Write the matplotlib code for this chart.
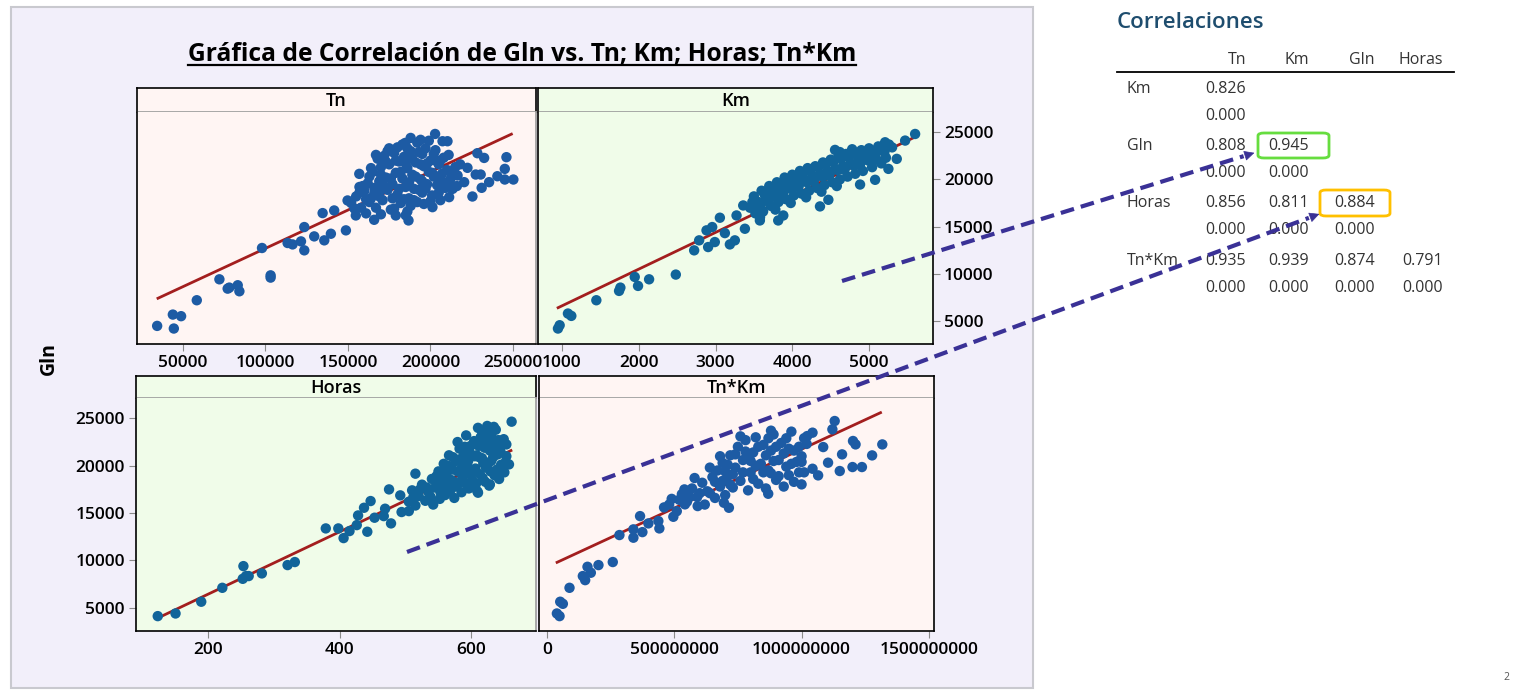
import numpy as np
import matplotlib
matplotlib.use("Agg")
import matplotlib.pyplot as plt
from matplotlib.lines import Line2D
from matplotlib.patches import Rectangle, FancyArrowPatch, FancyBboxPatch

plt.rcParams['font.family'] = ['Open Sans', 'DejaVu Sans']

W, H = 1518, 690

# ---- data -----------------------------------------------------------------
tn_x = [34500, 44600, 44000, 49000, 58500, 72200, 77200, 78200, 83300, 84300,
        98000, 103200, 103200, 113500, 116500, 121600, 123600, 123600, 129600, 135700,
        134700, 139700, 141700, 148800, 149800, 156900, 154800, 165900, 179000, 186700,
        201200, 202800, 184700, 207300, 210300, 228400, 232500, 246000, 245000, 250200,
        245000, 240500, 235500, 231000, 225400, 220400, 211300, 222400, 227400, 230400,
        216400, 213400,
        152000, 155000, 158000, 160000, 162000, 163000, 165000, 166000, 168000, 169000,
        170000, 171000, 172000, 173000, 174000, 175000, 176000, 177000, 178000, 179000,
        180000, 181000, 182000, 183000, 184000, 185000, 186000, 187000, 188000, 189000,
        190000, 191000, 192000, 193000, 194000, 195000, 196000, 197000, 198000, 199000,
        200000, 201000, 202000, 203000, 204000, 205000, 206000, 207000, 208000, 209000,
        210000, 212000, 214000, 216000, 218000, 161000, 167000, 178000, 186000, 196000,
        175000, 183000, 192000, 199000, 157000, 164000, 171000, 188000, 195000, 204000,
        154000, 157000, 159000, 161000, 163000, 164000, 166000, 167000, 169000, 170000,
        172000, 173000, 174000, 176000, 177000, 179000, 180000, 181000, 182000, 184000,
        185000, 186000, 187000, 189000, 190000, 191000, 193000, 194000, 195000, 197000,
        198000, 200000, 201000, 202000, 204000, 205000, 206000, 208000, 210000, 211000,
        213000, 215000, 188000, 194000, 185000, 170000]
tn_y = [4470, 4190, 5670, 5500, 7190, 9410, 8420, 8530, 8780, 8140,
        12730, 9830, 9590, 13260, 13110, 13430, 12480, 14950, 13960, 13540,
        16430, 14240, 16710, 14600, 17770, 20590, 16180, 15720, 16180, 15650,
        17060, 24820, 23870, 24050, 24050, 22780, 22280, 22360, 21120, 19990,
        19990, 20340, 19710, 19110, 18190, 19710, 18120, 21230, 20520, 20520,
        20420, 19000,
        17500, 18200, 17000, 18800, 19600, 17600, 20800, 18500, 22200, 19800,
        21300, 17800, 22500, 20200, 18900, 21600, 16800, 19500, 22800, 20700,
        18400, 21900, 17500, 20100, 22400, 19200, 21200, 18000, 23000, 20500,
        19000, 21800, 17600, 22900, 20000, 18600, 21400, 23300, 19500, 20800,
        22000, 18300, 20300, 23100, 19400, 21600, 17800, 20600, 22300, 19100,
        21000, 20000, 20900, 19300, 21600, 16400, 17000, 16900, 16600, 17400,
        23300, 23700, 23900, 24100, 19200, 18000, 19000, 17200, 19800, 21900,
        16900, 18600, 19300, 17900, 20300, 21200, 19100, 22600, 18200, 20500,
        19300, 21900, 23000, 20100, 18000, 22000, 23400, 19000, 20800, 17900,
        21700, 23300, 19700, 22200, 17800, 20300, 18900, 21600, 22700, 19000,
        21700, 17700, 20700, 22700, 20300, 18600, 22000, 19700, 19400, 22600,
        20400, 21300, 24400, 24200, 16200, 16300]

km_x = [948, 970, 1078, 1122, 1448, 1744, 1761, 1948, 1991, 2135,
        2483, 2722, 2787, 2883, 2904, 2957, 2991, 3057, 3122, 3187,
        3252, 3274, 3361, 3383, 3578, 3817, 3883, 4361, 4557, 5600,
        5470, 5209, 5361, 5252, 5079, 4883, 4470,
        3450, 3500, 3520, 3560, 3600, 3620, 3660, 3700, 3720, 3760,
        3800, 3820, 3860, 3900, 3920, 3960, 4000, 4020, 4060, 4100,
        4120, 4160, 4200, 4220, 4260, 4300, 4320, 4360, 4400, 4420,
        4460, 4500, 4520, 4560, 4600, 4620, 4660, 4700, 4720, 4760,
        4800, 4820, 4860, 4900, 4920, 4960, 5000, 5040, 5080, 5120,
        5160, 5200, 5260, 3680, 3880, 4080, 4280, 4480, 4680, 4880,
        3580, 3780, 3980, 4180, 4380, 4580,
        3480, 3540, 3590, 3640, 3690, 3740, 3790, 3840, 3890, 3940,
        3990, 4040, 4090, 4140, 4190, 4240, 4290, 4340, 4390, 4440,
        4490, 4540, 4590, 4640, 4690, 4740, 4790, 4840, 4890, 4940,
        4990, 5030, 5100, 5150, 5220, 5300, 4620, 4780]
km_y = [4190, 4540, 5780, 5530, 7190, 8180, 8530, 9660, 8710, 9410,
        9910, 12480, 13540, 14600, 12830, 14950, 13360, 15940, 14310, 13110,
        13540, 16180, 17240, 14770, 15650, 15650, 16180, 17140, 23130, 24820,
        24120, 23940, 22180, 21120, 19960, 19460, 17840,
        17000, 18200, 16400, 17600, 18800, 16600, 17900, 19300, 17200, 18400,
        19700, 17600, 18900, 20200, 17900, 19300, 20500, 18300, 19600, 20900,
        18500, 19900, 21200, 18800, 20300, 21400, 19100, 20600, 21800, 19400,
        20900, 22100, 19700, 21100, 22400, 20000, 21400, 22700, 20300, 21700,
        22900, 20600, 22000, 23100, 20900, 22300, 23300, 21300, 22600, 23500,
        21700, 22900, 23700, 18100, 18000, 19200, 19800, 20400, 21000, 21500,
        16000, 16800, 17500, 18100, 18700, 19300,
        17600, 16900, 17300, 18400, 17700, 18900, 18100, 19300, 18700, 19800,
        19000, 20200, 19500, 20600, 19700, 21000, 20100, 21300, 20300, 21600,
        20700, 21900, 21000, 22200, 21300, 22400, 21500, 22600, 21800, 22800,
        22000, 23000, 22100, 23200, 22300, 23400, 22900, 23200]

horas_x = [124, 151, 190, 222, 253, 254, 258, 262, 282, 321,
           332, 379, 398, 406, 415, 426, 428, 437, 442, 447,
           453, 467, 469, 475, 478, 492, 494, 505, 515, 661,
           653, 634, 657, 610, 628,
           505, 510, 515, 520, 525, 530, 535, 540, 542, 545,
           550, 552, 555, 558, 560, 563, 566, 568, 571, 574,
           577, 580, 582, 585, 588, 590, 593, 596, 598, 601,
           604, 606, 609, 612, 614, 617, 620, 622, 625, 627,
           630, 632, 635, 637, 640, 642, 645, 647, 650, 653,
           573, 585, 597, 608, 618, 628, 548, 562, 579, 592,
           610, 624, 634,
           512, 522, 532, 538, 547, 553, 557, 561, 565, 569,
           572, 576, 579, 583, 586, 589, 592, 595, 599, 602,
           605, 607, 611, 613, 616, 619, 621, 624, 626, 629,
           631, 633, 636, 639, 641, 644, 646, 649, 652, 616]
horas_y = [4120, 4400, 5640, 7110, 8060, 9400, 8350, 8350, 8630, 9510,
           9830, 13380, 13380, 12360, 13100, 13730, 14750, 15560, 13030, 16270,
           14510, 14680, 15460, 17500, 13910, 16870, 15110, 15210, 19160, 24650,
           22250, 22250, 20140, 17150, 18030,
           16200, 17400, 15800, 16800, 18000, 16300, 17200, 18600, 15900, 17700,
           19400, 16500, 18200, 20200, 16900, 18800, 21100, 17400, 19600, 16600,
           20500, 18100, 21800, 17200, 19000, 22000, 20100, 17600, 21300, 18500,
           22600, 19700, 17300, 20900, 23000, 18700, 21900, 19800, 23400, 17900,
           20500, 22500, 19000, 23800, 21200, 18600, 20100, 22300, 19300, 21000,
           18300, 19700, 19200, 21100, 20300, 21600, 18100, 19700, 22500, 23200,
           24000, 24200, 24100,
           16700, 17500, 17700, 16700, 18900, 17200, 19200, 17900, 20000, 18500,
           20900, 17800, 19400, 20700, 18600, 21200, 18100, 20500, 22100, 19300,
           21000, 18100, 22100, 19100, 20800, 22700, 18300, 20000, 22000, 19400,
           23000, 20900, 21800, 19600, 22700, 21500, 19800, 22800, 20400, 23600]

tnkm_x = [3.92e7, 4.97e7, 5.23e7, 6.27e7, 8.88e7, 1.411e8, 1.503e8, 1.594e8, 1.725e8, 2.025e8,
          2.587e8, 2.848e8, 3.397e8, 3.397e8, 3.658e8, 3.75e8, 3.985e8, 4.377e8, 4.416e8, 4.965e8,
          5.42e8, 5.92e8, 6.95e8, 7.147e8, 8.69e8, 1.0e9, 1.065e9, 1.13e9, 1.121e9, 1.085e9,
          1.202e9, 1.212e9, 1.317e9, 1.277e9, 1.237e9, 1.2e9, 1.15e9, 1.159e9, 1.104e9, 1.043e9,
          1.043e9, 1.022e9,
          4.6e8, 4.9e8, 5.1e8, 5.3e8, 5.5e8, 5.7e8, 5.9e8, 6.1e8, 6.2e8, 6.3e8,
          6.5e8, 6.6e8, 6.7e8, 6.8e8, 6.9e8, 7.0e8, 7.1e8, 7.2e8, 7.3e8, 7.4e8,
          7.5e8, 7.6e8, 7.7e8, 7.8e8, 7.9e8, 8.0e8, 8.1e8, 8.2e8, 8.3e8, 8.4e8,
          8.5e8, 8.6e8, 8.7e8, 8.8e8, 8.9e8, 9.0e8, 9.1e8, 9.2e8, 9.3e8, 9.4e8,
          9.5e8, 9.6e8, 9.7e8, 9.8e8, 9.9e8, 1.0e9, 1.01e9, 1.02e9, 6.4e8, 7.2e8,
          8.0e8, 8.8e8, 9.5e8, 5.8e8, 6.8e8, 7.6e8,
          4.8e8, 5.2e8, 5.4e8, 5.6e8, 6.0e8, 6.4e8, 6.6e8, 6.9e8, 7.1e8, 7.3e8,
          7.4e8, 7.7e8, 7.8e8, 8.1e8, 8.2e8, 8.3e8, 8.5e8, 8.6e8, 8.7e8, 8.9e8,
          9.0e8, 9.1e8, 9.3e8, 9.4e8, 9.6e8, 9.7e8, 9.9e8, 1.0e9, 1.01e9, 7.0e8,
          7.9e8, 8.8e8]
tnkm_y = [4400, 4120, 5640, 5420, 7110, 8350, 7920, 9330, 8700, 9510,
          9830, 12680, 12400, 13280, 14680, 12990, 13910, 14160, 13380, 14610,
          15920, 15740, 16090, 15560, 17040, 18030, 18980, 24720, 23840, 21970,
          22610, 22250, 22250, 21090, 19860, 19860, 19440, 21200, 20320, 19680,
          23490, 23130,
          15600, 16500, 15200, 17000, 16200, 17600, 16700, 18200, 15900, 17300,
          18800, 16600, 19500, 17800, 20300, 16900, 18900, 21100, 17700, 19800,
          22000, 18400, 20600, 22700, 17400, 19300, 21400, 23000, 18100, 20200,
          22200, 17600, 19500, 21600, 23300, 18500, 20600, 22400, 17800, 19900,
          21800, 23600, 18300, 20400, 22000, 21000, 19300, 22300, 19800, 18000,
          20500, 19200, 19000, 18700, 21000, 23100,
          15900, 16400, 17500, 16700, 17100, 17100, 18300, 18400, 20100, 19100,
          21200, 19300, 21500, 18600, 20000, 22000, 19300, 21100, 22900, 20500,
          22000, 18900, 21300, 22900, 20200, 21600, 19300, 20400, 22900, 19400,
          20800, 23700]

# fitted regression lines (end points)
fit_tn = ([35000, 249000], [7400, 24800])
fit_km = ([950, 5600], [6400, 24500])
fit_horas = ([128, 660], [4050, 21600])
fit_tnkm = ([4.0e7, 1.31e9], [9800, 25600])

# correlation table
corr_cols = ['Tn', 'Km', 'Gln', 'Horas']
corr_rows = ['Km', 'Gln', 'Horas', 'Tn*Km']
corr_vals = [[0.826], [0.808, 0.945], [0.856, 0.811, 0.884], [0.935, 0.939, 0.874, 0.791]]
p_vals = [[0.000], [0.000, 0.000], [0.000, 0.000, 0.000], [0.000, 0.000, 0.000, 0.000]]

# ---- styling ----------------------------------------------------------------
PINK = '#FFF5F3'
GREEN = '#F0FCE9'
FRAME = '#F2EFFA'
DOT1 = '#1D5BA4'
DOT2 = '#11649A'
RED = '#A31E1E'
ARROW = '#3A3196'
YLIM = (2550, 27150)


def rect(x0, y0, x1, y1):
    return [x0 / W, 1 - y1 / H, (x1 - x0) / W, (y1 - y0) / H]


fig = plt.figure(figsize=(W / 100, H / 100), dpi=100)
fig.patch.set_facecolor('white')
fig.add_artist(Rectangle((11 / W, 1 - 688 / H), (1033 - 11) / W, (688 - 7) / H,
                         transform=fig.transFigure, facecolor=FRAME,
                         edgecolor='#C9C9CF', lw=1.5, zorder=-10))


def panel(box, strip_box, name, color, x, y, fit, dotc, xlim, xticks, xlabels,
          yside=None):
    sx = fig.add_axes(rect(*strip_box))
    sx.set_facecolor(color)
    sx.set_xticks([]); sx.set_yticks([])
    for s in sx.spines.values():
        s.set_color('black'); s.set_linewidth(1.2)
    sx.spines['bottom'].set_color('#9A9A9A')
    sx.text(0.5, 0.45, name, ha='center', va='center', fontsize=13,
            fontweight='semibold', transform=sx.transAxes)

    ax = fig.add_axes(rect(*box))
    ax.set_facecolor(color)
    ax.plot(fit[0], fit[1], color=RED, lw=2.0, zorder=2)
    ax.scatter(x, y, s=56, color=dotc, edgecolors='none', zorder=3)
    ax.set_xlim(*xlim)
    ax.set_ylim(*YLIM)
    ax.set_xticks(xticks)
    ax.set_xticklabels(xlabels)
    for side, s in ax.spines.items():
        s.set_color('black'); s.set_linewidth(1.2)
    ax.spines['top'].set_visible(False)
    ax.tick_params(axis='both', direction='out', length=5, color='#8A8A8A',
                   labelsize=12.5, pad=3)
    ax.set_yticks([5000, 10000, 15000, 20000, 25000])
    if yside == 'right':
        ax.yaxis.tick_right()
    elif yside is None:
        ax.tick_params(axis='y', left=False, labelleft=False)
    for lab in ax.get_xticklabels() + ax.get_yticklabels():
        lab.set_fontweight('semibold')
    return ax


ax_tn = panel((137, 112, 536, 344), (137, 88, 536, 112), 'Tn', PINK, tn_x, tn_y,
              fit_tn, DOT1, (22300, 263900), [50000, 100000, 150000, 200000, 250000],
              ['50000', '100000', '150000', '200000', '250000'])
ax_tn.spines['right'].set_color('#9A9A9A')
ax_km = panel((538, 112, 933, 344), (538, 88, 933, 112), 'Km', GREEN, km_x, km_y,
              fit_km, DOT2, (688, 5833), [1000, 2000, 3000, 4000, 5000],
              ['1000', '2000', '3000', '4000', '5000'], yside='right')
ax_h = panel((136, 398, 536, 631), (136, 376, 536, 398), 'Horas', GREEN, horas_x,
             horas_y, fit_horas, DOT2, (91, 698), [200, 400, 600],
             ['200', '400', '600'], yside='left')
ax_h.spines['right'].set_color('#9A9A9A')
ax_tk = panel((539, 398, 934, 631), (539, 376, 934, 398), 'Tn*Km', PINK, tnkm_x,
              tnkm_y, fit_tnkm, DOT1, (-3.1e7, 1.52e9), [0, 5e8, 1e9, 1.5e9],
              ['0', '500000000', '1000000000', '1500000000'])

fig.text(49 / W, 1 - 359 / H, 'Gln', rotation=90, ha='center', va='center',
         fontsize=14, fontweight='bold')

# title with underline
title = fig.text(522 / W, 1 - 54 / H, 'Gráfica de Correlación de Gln vs. Tn; Km; Horas; Tn*Km',
                 ha='center', va='center', fontsize=17.7, fontweight='bold')
fig.canvas.draw()
bb = title.get_window_extent().transformed(fig.transFigure.inverted())
fig.add_artist(Line2D([bb.x0, bb.x1], [bb.y0 + 0.002, bb.y0 + 0.002],
                      transform=fig.transFigure, color='black', lw=1.6))

# ---- correlation table --------------------------------------------------------
fig.text(1117 / W, 1 - 22 / H, 'Correlaciones', ha='left', va='center',
         fontsize=16, color='#1E4D6E', fontweight='semibold')
col_right = [1246, 1309, 1375, 1443]
TXT = '#333333'
for c, name in enumerate(corr_cols):
    fig.text(col_right[c] / W, 1 - 60 / H, name, ha='right', va='center',
             fontsize=11.5, color=TXT)
fig.add_artist(Line2D([1117 / W, 1454 / W], [1 - 72 / H, 1 - 72 / H],
                      transform=fig.transFigure, color='black', lw=1.3))
row_y = [89, 146, 203, 261]
for r, name in enumerate(corr_rows):
    y0 = row_y[r]
    fig.text(1127 / W, 1 - y0 / H, name, ha='left', va='center', fontsize=11.5, color=TXT)
    for c, v in enumerate(corr_vals[r]):
        fig.text(col_right[c] / W, 1 - y0 / H, f'{v:.3f}', ha='right', va='center',
                 fontsize=11.5, color=TXT)
        fig.text(col_right[c] / W, 1 - (y0 + 27) / H, f'{p_vals[r][c]:.3f}',
                 ha='right', va='center', fontsize=11.5, color=TXT)

for (x0, y0, x1, y1, ec) in [(1258, 133, 1329, 158, '#66DD3F'),
                             (1320, 190, 1390, 216, '#FFC000')]:
    fig.add_artist(FancyBboxPatch((x0 / W, 1 - y1 / H), (x1 - x0) / W, (y1 - y0) / H,
                                  boxstyle='round,pad=0,rounding_size=0.004',
                                  transform=fig.transFigure, facecolor='none',
                                  edgecolor=ec, lw=2.0, zorder=5))

# dashed arrows from panels to table
for (xa, ya, xb, yb) in [(842, 281, 1257, 152), (407, 552, 1322, 213)]:
    dx, dy = xb - xa, yb - ya
    L = np.hypot(dx, dy)
    xm, ym = xb - dx / L * 14, yb - dy / L * 14
    fig.add_artist(Line2D([xa / W, xm / W], [1 - ya / H, 1 - ym / H],
                          transform=fig.transFigure, color=ARROW, lw=3.0,
                          dashes=(3.3, 1.7), zorder=6))
    fig.add_artist(FancyArrowPatch((xm / W, 1 - ym / H), (xb / W, 1 - yb / H),
                                   transform=fig.transFigure, arrowstyle='-|>',
                                   mutation_scale=16, color=ARROW, lw=0.5, zorder=6))

fig.text(1506 / W, 1 - 677 / H, '2', ha='center', va='center', fontsize=7.5,
         color='#555555')

fig.savefig('out.png', dpi=100)
